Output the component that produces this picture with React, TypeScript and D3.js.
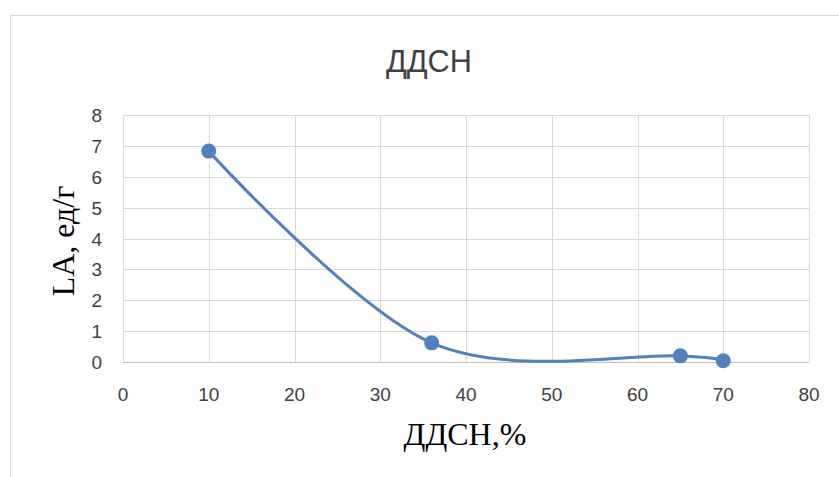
import React from "react";
import * as d3 from "d3";

const xValues = [10, 36, 65, 70];
const yValues = [6.83, 0.62, 0.2, 0.04];
const xTicks = [0, 10, 20, 30, 40, 50, 60, 70, 80];
const yTicks = [0, 1, 2, 3, 4, 5, 6, 7, 8];
const title = "ДДСН";
const xTitle = "ДДСН,%";
const yTitle = "LA, ед/г";

export default function App() {
  const W = 839, H = 477;
  const left = 123, right = 809, top = 115, bottom = 362;
  const x = d3.scaleLinear().domain([0, 80]).range([left, right]);
  const y = d3.scaleLinear().domain([0, 8]).range([bottom, top]);
  const pts: [number, number][] = xValues.map((v, i) => [x(v), y(yValues[i])]);
  const line = d3.line().curve(d3.curveCatmullRom.alpha(0));
  const tickFont = "'Liberation Sans', Arial, sans-serif";
  const serif = "'Liberation Serif', 'Times New Roman', serif";
  const blue = "#4f81bd";
  return (
    <svg width={W} height={H} style={{ position: "absolute", left: 0, top: 0, background: "#fff" }}>
      <rect x={0} y={0} width={W} height={H} fill="#fff" />
      <line x1={10.5} y1={15.5} x2={W} y2={15.5} stroke="#d9d9d9" />
      <line x1={10.5} y1={15.5} x2={10.5} y2={H} stroke="#d9d9d9" />
      <text x={429} y={72} textAnchor="middle" fontFamily="'Liberation Sans Narrow', 'Liberation Sans', sans-serif" fontSize={31} fill="#404040" textLength={86} lengthAdjust="spacingAndGlyphs">{title}</text>
      {yTicks.map(t => (
        <line key={"gy" + t} x1={left} x2={right} y1={Math.round(y(t)) + 0.5} y2={Math.round(y(t)) + 0.5} stroke="#d9d9d9" strokeWidth={1} />
      ))}
      {xTicks.map(t => (
        <line key={"gx" + t} x1={Math.round(x(t)) + 0.5} x2={Math.round(x(t)) + 0.5} y1={top} y2={bottom} stroke="#d9d9d9" strokeWidth={1} />
      ))}
      <line x1={left} x2={right} y1={Math.round(y(0)) + 0.5} y2={Math.round(y(0)) + 0.5} stroke="#bfbfbf" />
      {yTicks.map(t => (
        <text key={"ty" + t} x={102} y={y(t) + 7} textAnchor="end" fontFamily={tickFont} fontSize={19} fill="#404040">{t}</text>
      ))}
      {xTicks.map(t => (
        <text key={"tx" + t} x={x(t)} y={401} textAnchor="middle" fontFamily={tickFont} fontSize={19} fill="#404040">{t}</text>
      ))}
      <text x={465} y={445} textAnchor="middle" fontFamily={serif} fontSize={32} fill="#000">{xTitle}</text>
      <text transform={`translate(74,241) rotate(-90)`} textAnchor="middle" fontFamily={serif} fontSize={32} fill="#000">{yTitle}</text>
      <path d={line(pts) || ""} fill="none" stroke={blue} strokeWidth={3} strokeLinecap="round" />
      {pts.map((p, i) => (
        <circle key={"p" + i} cx={p[0]} cy={p[1]} r={7.5} fill={blue} />
      ))}
    </svg>
  );
}
